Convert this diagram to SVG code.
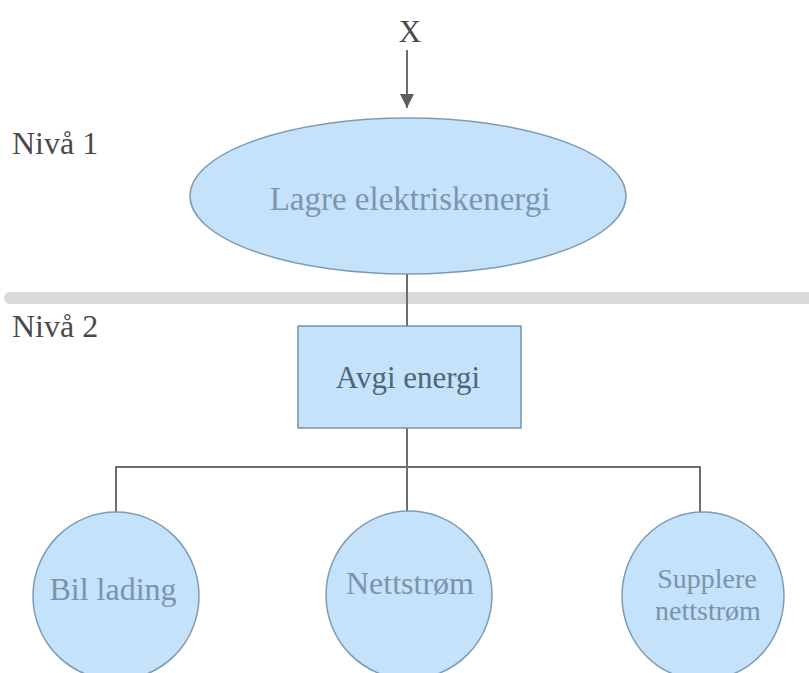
<svg xmlns="http://www.w3.org/2000/svg" width="809" height="673" viewBox="0 0 809 673">
<defs>
<style>
.shape{fill:#c4e2f9;stroke:#7f9bb4;stroke-width:1.5}
.lbl{fill:#7b94ab;text-anchor:middle}
.lvl{fill:#4a4a4a;font-size:32px}
.conn{stroke:#6e6e6e;stroke-width:2;fill:none}
</style>
<marker id="ah" markerWidth="14" markerHeight="16" refX="14" refY="7" orient="auto" markerUnits="userSpaceOnUse">
<path d="M0,0 L14,7 L0,14 z" fill="#5f5f5f"/>
</marker>
</defs>
<rect width="809" height="673" fill="#ffffff"/>
<rect x="4" y="292" width="810" height="12" rx="6" fill="#d9d9d9"/>
<g font-family="'Liberation Serif','Times New Roman',serif">
<text class="lvl" x="12" y="154">Nivå 1</text>
<text class="lvl" x="12" y="337">Nivå 2</text>
<g id="connectors">
<line class="conn" x1="407" y1="50" x2="407" y2="108" marker-end="url(#ah)"/>
<line class="conn" x1="407" y1="274" x2="407" y2="326"/>
<line class="conn" x1="407" y1="428" x2="407" y2="512"/>
<polyline class="conn" points="116,513 116,467 700,467 700,513"/>
</g>
<g id="input-x">
<text x="410" y="42" font-size="31" fill="#4a4a4a" text-anchor="middle">X</text>
</g>
<g id="node-lagre">
<ellipse class="shape" cx="408" cy="196" rx="218" ry="78"/>
<text class="lbl" x="410" y="210" font-size="33" style="fill:#7d95ad">Lagre elektriskenergi</text>
</g>
<g id="node-avgi">
<rect class="shape" x="298" y="326" width="223" height="102" stroke-width="2.5" style="stroke:#7593ae"/>
<text class="lbl" x="408" y="388" font-size="31" style="fill:#4f6579">Avgi energi</text>
</g>
<g id="node-bil">
<ellipse class="shape" cx="116" cy="596" rx="83" ry="84"/>
<text class="lbl" x="113" y="600" font-size="32">Bil lading</text>
</g>
<g id="node-nett">
<ellipse class="shape" cx="409" cy="595" rx="83" ry="84"/>
<text class="lbl" x="410" y="594" font-size="32">Nettstrøm</text>
</g>
<g id="node-supplere">
<ellipse class="shape" cx="703" cy="596" rx="81" ry="84"/>
<text class="lbl" x="707" y="588" font-size="28">Supplere</text>
<text class="lbl" x="708" y="620" font-size="28">nettstrøm</text>
</g>
</g>
</svg>
